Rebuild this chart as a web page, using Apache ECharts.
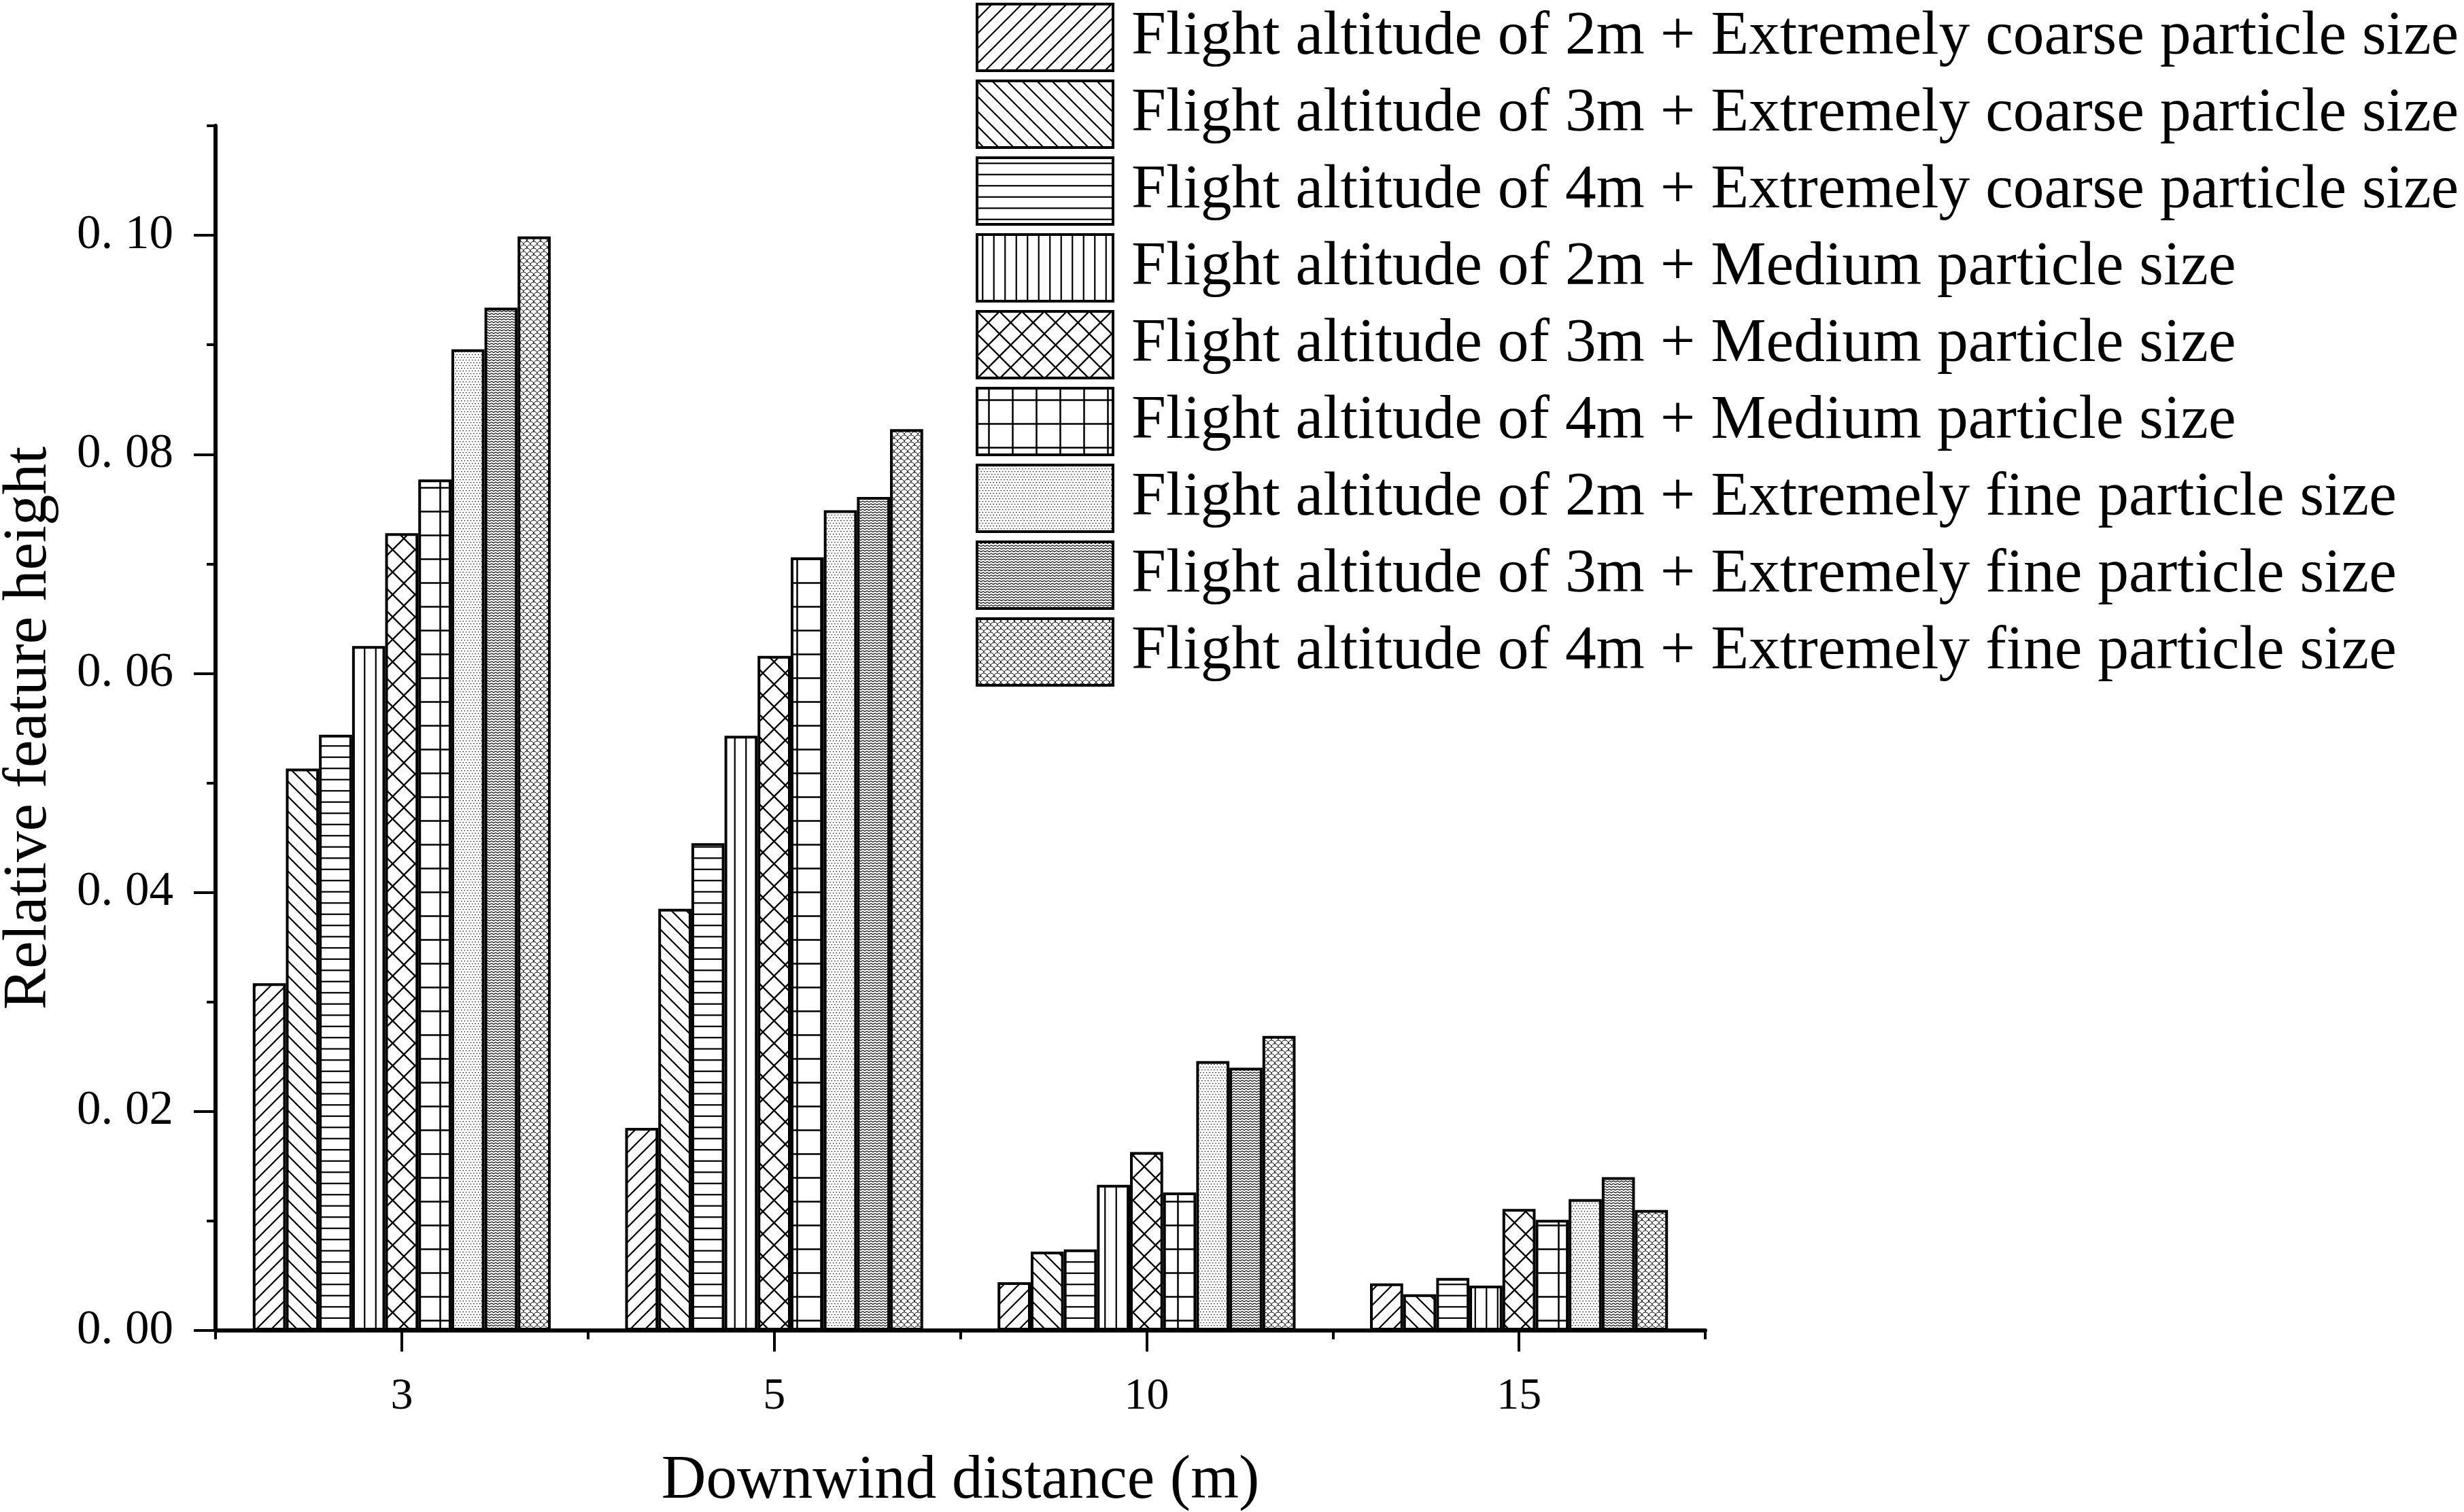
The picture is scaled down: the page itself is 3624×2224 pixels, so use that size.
<!DOCTYPE html>
<html>
<head>
<meta charset="utf-8">
<script src="https://cdn.jsdelivr.net/npm/echarts@6/dist/echarts.min.js"></script>
<style>
html,body{margin:0;padding:0;background:#fff;}
#chart{width:3624px;height:2224px;}
</style>
</head>
<body>
<div id="chart"></div>
<script>
// ---- data ----
const categories = ['3', '5', '10', '15'];
const seriesNames = [
  'Flight altitude of 2m + Extremely coarse particle size',
  'Flight altitude of 3m + Extremely coarse particle size',
  'Flight altitude of 4m + Extremely coarse particle size',
  'Flight altitude of 2m + Medium particle size',
  'Flight altitude of 3m + Medium particle size',
  'Flight altitude of 4m + Medium particle size',
  'Flight altitude of 2m + Extremely fine particle size',
  'Flight altitude of 3m + Extremely fine particle size',
  'Flight altitude of 4m + Extremely fine particle size'
];
const alt2mCoarse = [0.0317, 0.0185, 0.0044, 0.0043];
const alt3mCoarse = [0.0513, 0.0385, 0.0072, 0.0033];
const alt4mCoarse = [0.0544, 0.0445, 0.0074, 0.0048];
const alt2mMedium = [0.0625, 0.0543, 0.0133, 0.0041];
const alt3mMedium = [0.0728, 0.0616, 0.0163, 0.0111];
const alt4mMedium = [0.0777, 0.0706, 0.0126, 0.0101];
const alt2mFine   = [0.0896, 0.0749, 0.0246, 0.0120];
const alt3mFine   = [0.0934, 0.0761, 0.0240, 0.0140];
const alt4mFine   = [0.0999, 0.0823, 0.0269, 0.0110];
const seriesValues = [alt2mCoarse, alt3mCoarse, alt4mCoarse, alt2mMedium, alt3mMedium, alt4mMedium, alt2mFine, alt3mFine, alt4mFine];
const yMajorTicks = [0, 0.02, 0.04, 0.06, 0.08, 0.10];
const yTickLabels = ['0. 00', '0. 02', '0. 04', '0. 06', '0. 08', '0. 10'];
const yMinorTicks = [0.01, 0.03, 0.05, 0.07, 0.09, 0.11];

// ---- patterns ----
function makePattern(w, h, draw) {
  const c = document.createElement('canvas');
  c.width = w; c.height = h;
  const ctx = c.getContext('2d');
  ctx.fillStyle = '#fff';
  ctx.fillRect(0, 0, w, h);
  ctx.strokeStyle = '#000';
  ctx.fillStyle = '#000';
  draw(ctx, w, h);
  return { image: c, repeat: 'repeat' };
}
function line(ctx, x1, y1, x2, y2) { ctx.beginPath(); ctx.moveTo(x1, y1); ctx.lineTo(x2, y2); ctx.stroke(); }
const P = 22;
const patterns = [
  makePattern(P, P, (ctx) => { ctx.lineWidth = 2.2; line(ctx, -2, P + 2, P + 2, -2); line(ctx, -2, 2, 2, -2); line(ctx, P - 2, P + 2, P + 2, P - 2); }),
  makePattern(P, P, (ctx) => { ctx.lineWidth = 2.2; line(ctx, -2, -2, P + 2, P + 2); line(ctx, -2, P - 2, 2, P + 2); line(ctx, P - 2, -2, P + 2, 2); }),
  makePattern(10, 33, (ctx) => { ctx.lineWidth = 2.2; line(ctx, 0, 8.25, 10, 8.25); line(ctx, 0, 24.75, 10, 24.75); }),
  makePattern(33, 10, (ctx) => { ctx.lineWidth = 2.2; line(ctx, 8.25, 0, 8.25, 10); line(ctx, 24.75, 0, 24.75, 10); }),
  makePattern(33, 33, (ctx) => { ctx.lineWidth = 2.3; line(ctx, -2, -2, 35, 35); line(ctx, -2, 35, 35, -2); }),
  makePattern(35, 35, (ctx) => { ctx.lineWidth = 2.5; line(ctx, 17.5, 0, 17.5, 35); line(ctx, 0, 17.5, 35, 17.5); }),
  makePattern(9, 8, (ctx) => { [[1,1],[5.5,1],[3.25,5],[7.75,5]].forEach(p => ctx.fillRect(p[0], p[1], 1.3, 1.3)); }),
  makePattern(6, 4, (ctx) => { ctx.lineWidth = 1.1; ctx.beginPath(); ctx.moveTo(-1.5, 3.5); ctx.lineTo(0, 2.7); ctx.lineTo(3, 0.8); ctx.lineTo(6, 2.7); ctx.lineTo(7.5, 3.5); ctx.stroke(); }),
  makePattern(10, 10, (ctx) => {
    ctx.lineWidth = 1;
    ctx.beginPath(); ctx.arc(5, 10, 5, Math.PI, 2 * Math.PI); ctx.stroke();
    ctx.beginPath(); ctx.arc(0, 5, 5, Math.PI, 2 * Math.PI); ctx.stroke();
    ctx.beginPath(); ctx.arc(10, 5, 5, Math.PI, 2 * Math.PI); ctx.stroke();
  })
];

const serif = 'Liberation Serif';
const chart = echarts.init(document.getElementById('chart'), null, { renderer: 'canvas' });

const series = seriesNames.map((name, i) => ({
  name: name,
  type: 'bar',
  xAxisIndex: 0,
  yAxisIndex: 0,
  barGap: '0%',
  barCategoryGap: '20%',
  data: seriesValues[i],
  itemStyle: { color: patterns[i], borderColor: '#000', borderWidth: 4 },
  emphasis: { disabled: true }
}));

chart.setOption({
  backgroundColor: '#fff',
  animation: false,
  grid: { left: 317, right: 1116, top: 185, bottom: 267, outerBoundsMode: 'none', containLabel: false },
  legend: {
    orient: 'vertical',
    left: 1435,
    top: 4,
    padding: 0,
    itemWidth: 200,
    itemHeight: 98,
    itemGap: 11,
    icon: 'rect',
    selectedMode: false,
    itemStyle: { borderColor: '#000', borderWidth: 4 },
    textStyle: { fontFamily: serif, fontSize: 91.5, color: '#000', padding: [12, 0, 0, 22] },
    data: seriesNames
  },
  xAxis: [
    {
      type: 'category',
      data: categories,
      position: 'bottom',
      name: 'Downwind distance (m)',
      nameLocation: 'middle',
      nameGap: 177,
      nameTextStyle: { fontFamily: serif, fontSize: 91, color: '#000' },
      axisLine: { show: true, lineStyle: { color: '#000', width: 6 } },
      axisTick: { show: true, alignWithLabel: true, length: 31, lineStyle: { color: '#000', width: 4 } },
      axisLabel: { fontFamily: serif, fontSize: 66, color: '#000', margin: 65 },
      splitLine: { show: false }
    },
    {
      type: 'category',
      data: categories,
      position: 'bottom',
      axisLine: { show: false },
      axisTick: { show: true, alignWithLabel: false, length: 13, interval: 0, lineStyle: { color: '#000', width: 4 } },
      axisLabel: { show: false },
      splitLine: { show: false }
    }
  ],
  yAxis: [
    {
      type: 'value',
      min: 0,
      max: 0.11,
      position: 'left',
      name: 'Relative feature height',
      nameLocation: 'middle',
      nameGap: 228,
      nameTextStyle: { fontFamily: serif, fontSize: 91, color: '#000' },
      axisLine: { show: true, lineStyle: { color: '#000', width: 6 } },
      axisTick: { show: true, length: 32, customValues: yMajorTicks, lineStyle: { color: '#000', width: 4 } },
      axisLabel: {
        fontFamily: serif, fontSize: 71, color: '#000', margin: 62,
        customValues: yMajorTicks,
        formatter: (v) => { const k = yMajorTicks.findIndex(t => Math.abs(t - v) < 1e-9); return k >= 0 ? yTickLabels[k] : ''; }
      },
      splitLine: { show: false }
    },
    {
      type: 'value',
      min: 0,
      max: 0.11,
      position: 'left',
      axisLine: { show: false },
      axisTick: { show: true, length: 13, customValues: yMinorTicks, lineStyle: { color: '#000', width: 4 } },
      axisLabel: { show: false },
      splitLine: { show: false }
    }
  ],
  series: series
});
</script>
</body>
</html>
